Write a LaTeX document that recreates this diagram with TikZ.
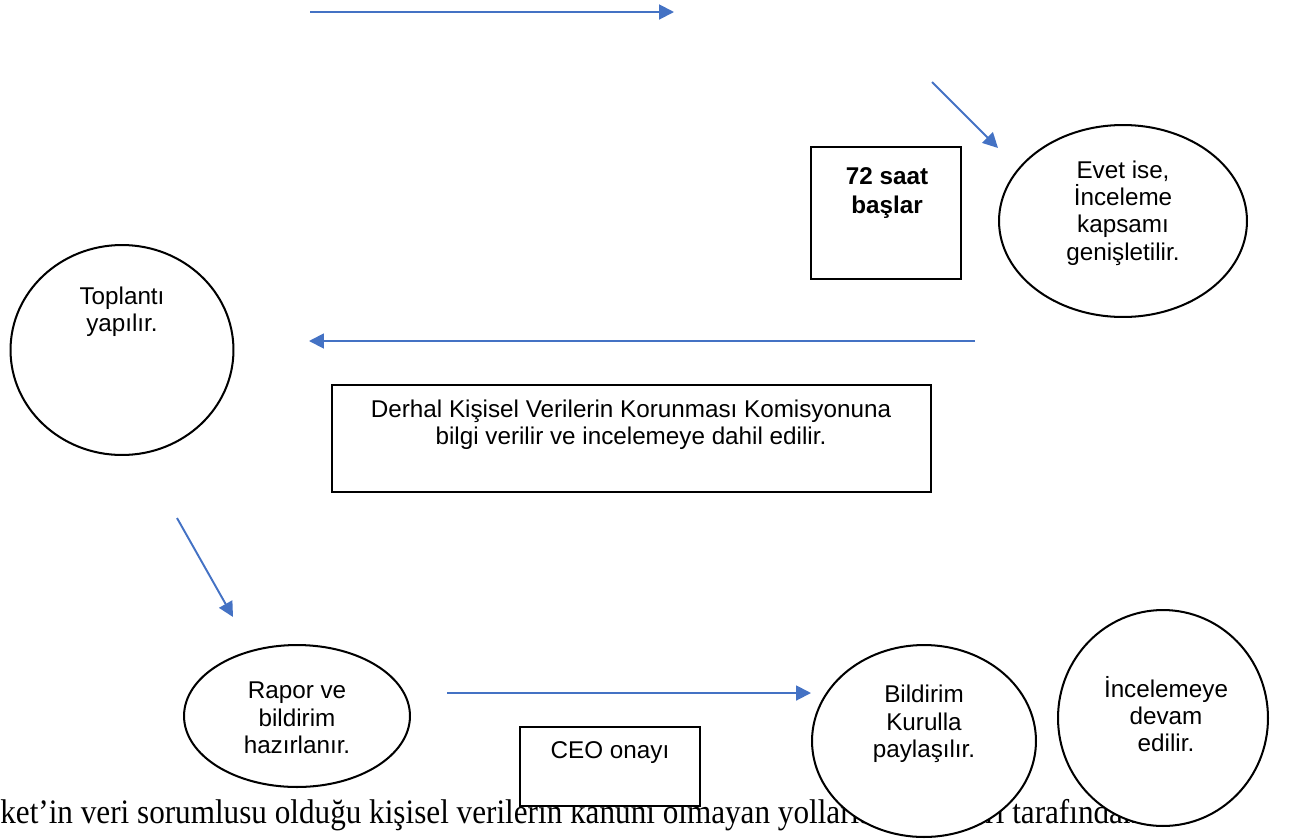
\documentclass[tikz,border=0pt]{standalone}
\usepackage{fontspec}
\setmainfont{Liberation Sans}
\newfontfamily\bodyserif{Liberation Serif}
\usetikzlibrary{arrows.meta,shapes.geometric}
\definecolor{flowblue}{HTML}{4472C4}

\begin{document}
\begin{tikzpicture}[x=0.02cm,y=-0.02cm,
    flow/.style={draw=flowblue,line width=1.1pt,-{Triangle[length=8.5pt,width=8.5pt]}},
    oval/.style={draw,ellipse,line width=1.15pt,fill=white,inner sep=0pt},
    box/.style={draw,rectangle,line width=1.15pt,fill=white,inner sep=0pt},
    txt/.style={align=center,inner sep=0pt,font=\fontsize{13.8}{15.6}\selectfont}]

    \useasboundingbox (0,0) rectangle (1291,839);

    % define coordinates
    \coordinate (topA) at (310,12) ;
    \coordinate (topB) at (674,12) ;
    \coordinate (diagA) at (932,82) ;
    \coordinate (diagB) at (998,148) ;
    \coordinate (backA) at (975,341) ;
    \coordinate (backB) at (309,341) ;
    \coordinate (downA) at (177,518) ;
    \coordinate (downB) at (233,617) ;
    \coordinate (lowA) at (447,693) ;
    \coordinate (lowB) at (811,693) ;

    % page text behind the shapes
    \node[anchor=base west,inner sep=0pt,xscale=0.91,font=\bodyserif\fontsize{19.5}{21}\selectfont] (bodyline) at (0,823)
        {ket’in veri sorumlusu olduğu kişisel verilerin kanuni olmayan yollarla\hskip0.6em başkaları tarafından};

    % shapes
    \node[box,minimum width=3.0cm,minimum height=2.64cm] (saat) at (886,213) {};
    \node[txt,font=\fontsize{13.8}{16.8}\selectfont\bfseries] (saatT) at (887,193) {72 saat\\başlar};

    \node[oval,minimum width=4.96cm,minimum height=3.84cm] (evet) at (1123,221) {};
    \node[txt] (evetT) at (1123,213) {Evet ise,\\İnceleme\\kapsamı\\genişletilir.};

    \node[oval,minimum width=4.46cm,minimum height=4.2cm] (toplanti) at (122,350) {};
    \node[txt] (toplantiT) at (122,312) {Toplantı\\yapılır.};

    \node[box,minimum width=11.98cm,minimum height=2.14cm] (komisyon) at (631.5,438.5) {};
    \node[txt] (komisyonT) at (631,425) {Derhal Kişisel Verilerin Korunması Komisyonuna\\bilgi verilir ve incelemeye dahil edilir.};

    \node[oval,minimum width=4.52cm,minimum height=2.84cm] (rapor) at (297,716) {};
    \node[txt] (raporT) at (297,718) {Rapor ve\\bildirim\\hazırlanır.};

    \node[box,minimum width=3.6cm,minimum height=1.58cm] (ceo) at (610,766.5) {};
    \node[txt] (ceoT) at (610,753) {CEO onayı};

    \node[oval,minimum width=4.48cm,minimum height=3.84cm] (bildirim) at (924,741) {};
    \node[txt] (bildirimT) at (924,724) {Bildirim\\Kurulla\\paylaşılır.};

    \node[oval,minimum width=4.2cm,minimum height=4.32cm] (devam) at (1163,718) {};
    \node[txt] (devamT) at (1166,714) {İncelemeye\\devam\\edilir.};

    % arrows
    \draw[flow] (topA) -- (topB) ;
    \draw[flow] (diagA) -- (diagB) ;
    \draw[flow] (backA) -- (backB) ;
    \draw[flow] (downA) -- (downB) ;
    \draw[flow] (lowA) -- (lowB) ;

\end{tikzpicture}
\end{document}
